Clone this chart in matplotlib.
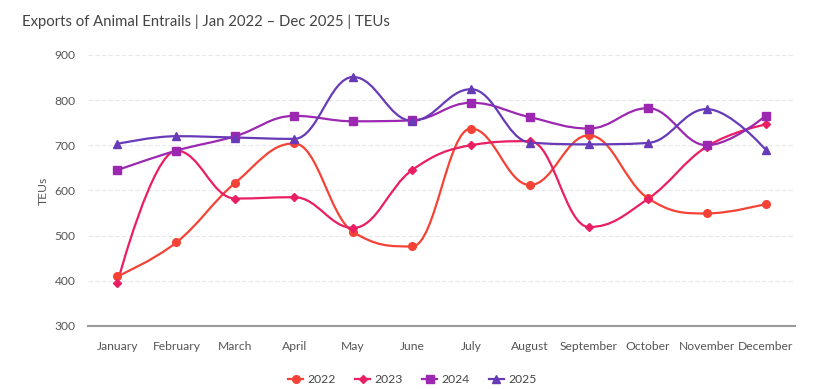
import numpy as np
import matplotlib.pyplot as plt
from matplotlib.path import Path
from matplotlib.patches import PathPatch
from matplotlib.lines import Line2D

plt.rcParams['font.family'] = ['Lato', 'DejaVu Sans']

months = ['January', 'February', 'March', 'April', 'May', 'June', 'July',
          'August', 'September', 'October', 'November', 'December']
years = ['2022', '2023', '2024', '2025']

teu_2022 = [410, 485, 617, 704, 508, 476, 737, 612, 722, 583, 549, 570]
teu_2023 = [396, 688, 582, 585, 517, 645, 700, 709, 519, 581, 697, 746]
teu_2024 = [645, 688, 720, 765, 753, 755, 794, 762, 737, 782, 700, 765]
teu_2025 = [703, 720, 717, 714, 851, 754, 824, 706, 702, 705, 780, 690]

series = [teu_2022, teu_2023, teu_2024, teu_2025]
colors = ['#f44336', '#e91e63', '#9c27b0', '#673ab7']
markers = ['o', 'D', 's', '^']
msizes = [5.5, 4, 5.5, 5.5]


def spline_path(xs, ys, smooth=1.5):
    # highcharts-like spline: bezier control points per point
    n = len(xs)
    lc = [(xs[i], ys[i]) for i in range(n)]
    rc = [(xs[i], ys[i]) for i in range(n)]
    d = smooth + 1
    for i in range(1, n - 1):
        px, py = xs[i], ys[i]
        lx, ly = xs[i - 1], ys[i - 1]
        nx, ny = xs[i + 1], ys[i + 1]
        lcx = (smooth * px + lx) / d
        lcy = (smooth * py + ly) / d
        rcx = (smooth * px + nx) / d
        rcy = (smooth * py + ny) / d
        corr = (rcy - lcy) * (rcx - px) / (rcx - lcx) + py - rcy
        lcy += corr
        rcy += corr
        if lcy > ly and lcy > py:
            lcy = max(ly, py)
            rcy = 2 * py - lcy
        elif lcy < ly and lcy < py:
            lcy = min(ly, py)
            rcy = 2 * py - lcy
        if rcy > ny and rcy > py:
            rcy = max(ny, py)
            lcy = 2 * py - rcy
        elif rcy < ny and rcy < py:
            rcy = min(ny, py)
            lcy = 2 * py - rcy
        lc[i] = (lcx, lcy)
        rc[i] = (rcx, rcy)
    verts = [(xs[0], ys[0])]
    codes = [Path.MOVETO]
    for i in range(1, n):
        verts += [rc[i - 1], lc[i], (xs[i], ys[i])]
        codes += [Path.CURVE4] * 3
    return Path(verts, codes)


fig = plt.figure(figsize=(8.3, 3.89), dpi=100)
ax = fig.add_axes([0.106, 0.162, 0.852, 0.697])

x = np.arange(len(months))
for vals, c, m, ms in zip(series, colors, markers, msizes):
    ax.add_patch(PathPatch(spline_path(x, vals), fill=False, edgecolor=c,
                           lw=1.6, zorder=3))
    ax.plot(x, vals, linestyle='none', marker=m, ms=ms, color=c, zorder=4)

ax.set_xlim(-0.5, 11.5)
ax.set_ylim(300, 900)
ax.set_yticks(range(300, 901, 100))
ax.set_xticks(x)
ax.set_xticklabels(months)
ax.tick_params(axis='both', length=0, labelsize=8.7, labelcolor='#555555')
ax.tick_params(axis='y', pad=9)
ax.tick_params(axis='x', pad=11)
ax.grid(axis='y', color='#e8e8e8', lw=0.8, linestyle=(0, (4, 2)))
ax.set_axisbelow(True)
for s in ['top', 'right', 'left']:
    ax.spines[s].set_visible(False)
ax.spines['bottom'].set_color('#9a9a9a')
ax.spines['bottom'].set_linewidth(1.5)
ax.set_ylabel('TEUs', fontsize=8.7, color='#555555', labelpad=4)

fig.text(0.027, 0.945, 'Exports of Animal Entrails | Jan 2022 \u2013 Dec 2025 | TEUs',
         fontsize=10.7, color='#444444', ha='left', va='center')

handles = [Line2D([], [], color=c, marker=m, ms=ms, lw=1.6)
           for c, m, ms in zip(colors, markers, msizes)]
fig.legend(handles, years, loc='center', bbox_to_anchor=(0.497, 0.025),
           ncol=4, frameon=False, fontsize=8.7, handlelength=1.2,
           columnspacing=1.6, handletextpad=0.4, labelcolor='#444444')

fig.savefig('out.png', dpi=100)
